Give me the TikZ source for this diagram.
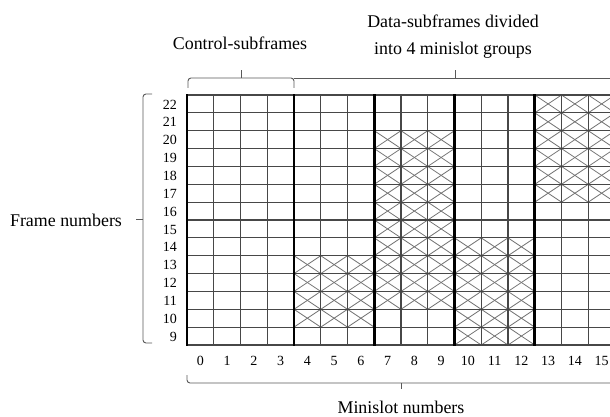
\documentclass[tikz,border=0pt]{standalone}
\usepackage{fontspec}
\setmainfont{Liberation Serif}
\begin{document}
\begin{tikzpicture}[x=1pt,y=-1pt,
  gridline/.style={line width=1.1pt, draw=black!72},
  thickline/.style={line width=2.6pt, draw=black},
  hatchline/.style={line width=0.8pt, draw=black!55},
  bracestyle/.style={line width=0.9pt, draw=black!65, rounded corners=3pt},
  lbl/.style={font=\fontsize{17.9}{20}\selectfont, inner sep=0pt, anchor=base},
  num/.style={font=\fontsize{14}{16}\selectfont, inner sep=0pt, anchor=base}]
\useasboundingbox (0,0) rectangle (610,417);
\clip (0,0) rectangle (610,417);
\def\X{187}\def\Y{95}\def\W{26.75}\def\H{17.857}
% hatched cells
\foreach \ca/\cb/\ra/\rb in {4/6/10/13, 7/9/11/20, 10/12/9/14, 13/15/17/22}{
  \foreach \c in {\ca,...,\cb}{
    \foreach \r in {\ra,...,\rb}{
      \draw[hatchline] ({\X+\c*\W},{\Y+(22-\r)*\H}) -- ++(\W,\H);
      \draw[hatchline] ({\X+\c*\W},{\Y+(23-\r)*\H}) -- ++(\W,-\H);
    }
  }
}
% grid
\foreach \i in {0,...,14}{
  \draw[gridline] (\X,{\Y+\i*\H}) -- (616,{\Y+\i*\H});
}
\foreach \c in {1,2,3,5,6,8,9,11,12,14,15,16}{
  \draw[gridline] ({\X+\c*\W},\Y) -- ({\X+\c*\W},{\Y+14*\H});
}
\foreach \c in {0,4,7,10,13}{
  \draw[thickline] ({\X+\c*\W},{\Y-0.5}) -- ({\X+\c*\W},{\Y+14*\H+0.5});
}
% row numbers
\foreach \r in {9,...,22}{
  \node[num, anchor=base east] (r\r) at (177,{\Y+(22-\r)*\H+\H/2+5.2}) {\r};
}
% column numbers
\foreach \c in {0,...,15}{
  \node[num] (c\c) at ({\X+\c*\W+\W/2},365) {\c};
}
% braces
\draw[bracestyle] (188,88) -- (188,78) -- (294,78) -- (294,88);
\draw[bracestyle] (241,78) -- (241,70);
\draw[bracestyle] (294,78) -- (620,78);
\draw[bracestyle] (455,78) -- (455,70);
\draw[bracestyle] (152,94) -- (143,94) -- (143,343) -- (152,343);
\draw[bracestyle] (143,219) -- (136,219);
\draw[bracestyle] (187,375) -- (187,383) -- (620,383);
\draw[bracestyle] (401,383) -- (401,389);
% labels
\node[lbl] (ctrl) at (240,50) {Control-subframes};
\node[lbl] (data1) at (453,28) {Data-subframes divided};
\node[lbl] (data2) at (453,55) {into 4 minislot groups};
\node[lbl] (frame) at (66,226) {Frame numbers};
\node[lbl] (mini) at (401,413) {Minislot numbers};
\end{tikzpicture}
\end{document}
